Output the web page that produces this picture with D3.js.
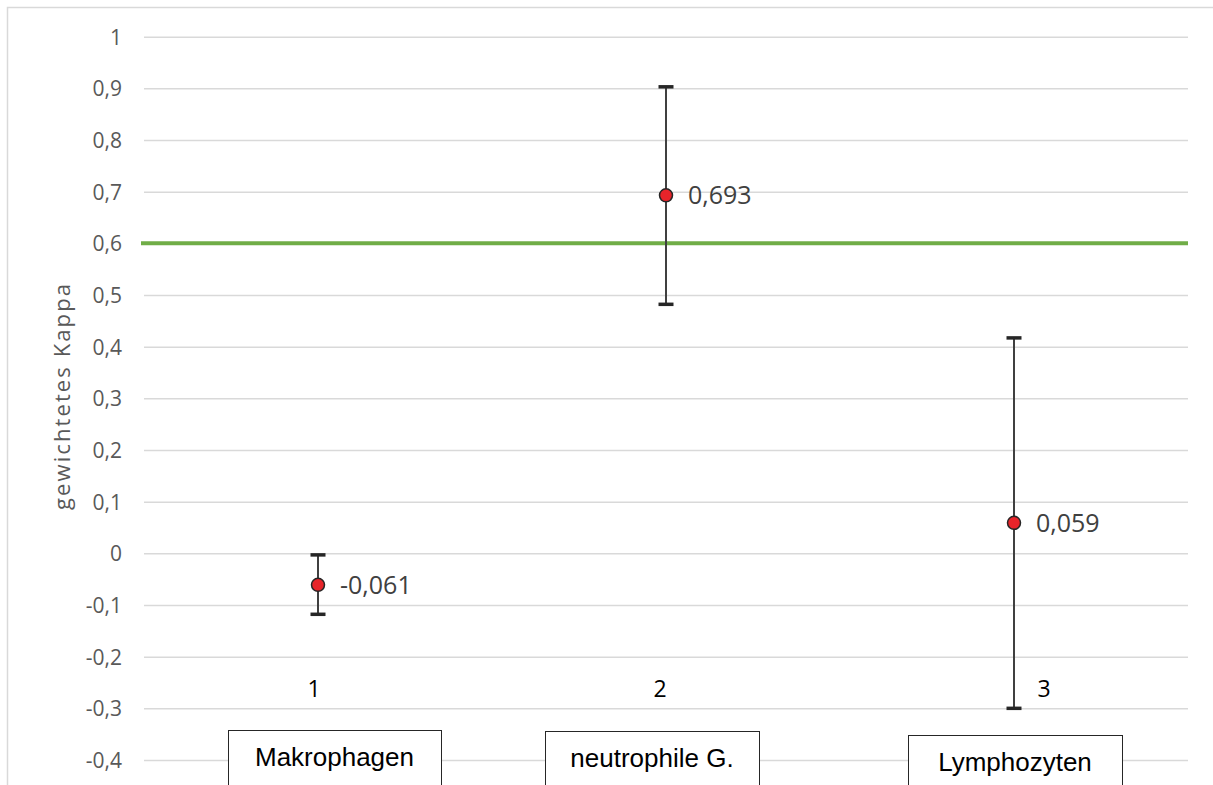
<!DOCTYPE html>
<html>
<head>
<meta charset="utf-8">
<script src="https://cdn.jsdelivr.net/npm/d3@7"></script>
<style>
  body { margin: 0; background: #fff; }
  svg { display: block; }
</style>
</head>
<body>
<svg id="chart" width="1213" height="785"></svg>
<script>
// Data
const categories = [1, 2, 3]
const boxLabels = ['Makrophagen', 'neutrophile G.', 'Lymphozyten']
const kappa = [-0.061, 0.693, 0.059]
const lower = [-0.118, 0.482, -0.300]
const upper = [-0.003, 0.903, 0.417]
const threshold = 0.6
const yTicks = [1, 0.9, 0.8, 0.7, 0.6, 0.5, 0.4, 0.3, 0.2, 0.1, 0, -0.1, -0.2, -0.3, -0.4]

const width = 1213,
    height = 785
const plot = { left: 144, right: 1188, top: 36.7, bottom: 760 }

const fmt = v => String(v).replace('.', ',')

const svg = d3.select('#chart')

// chart frame (cut off at right and bottom)
svg.append('path')
    .attr('d', `M7.5,${height} V7.5 H${width}`)
    .attr('fill', 'none')
    .attr('stroke', '#d9d9d9')
    .attr('stroke-width', 1.5)

const x = d3.scaleBand()
    .domain(categories)
    .range([plot.left, plot.right])

const y = d3.scaleLinear()
    .domain([-0.4, 1])
    .range([plot.bottom, plot.top])

// gridlines + tick labels
const yAxis = d3.axisLeft(y)
    .tickValues(yTicks)
    .tickSize(-(plot.right - plot.left))
    .tickPadding(22)
    .tickFormat(fmt)

const gy = svg.append('g')
    .attr('transform', `translate(${plot.left},0)`)
    .call(yAxis)
gy.select('.domain').remove()
gy.selectAll('.tick line')
    .attr('stroke', '#d9d9d9')
    .attr('stroke-width', 1.5)
gy.selectAll('.tick text')
    .attr('fill', '#595959')
    .attr('dy', '0.36em')
    .style('font-family', '"Open Sans", sans-serif')
    .style('font-size', '21px')

// axis title
svg.append('text')
    .attr('transform', `translate(70,397) rotate(-90)`)
    .attr('text-anchor', 'middle')
    .attr('fill', '#595959')
    .attr('textLength', 226)
    .attr('lengthAdjust', 'spacing')
    .style('font-family', '"Open Sans", sans-serif')
    .style('font-size', '22px')
    .text('gewichtetes Kappa')

// threshold line
svg.append('line')
    .attr('x1', plot.left - 3)
    .attr('x2', plot.right)
    .attr('y1', y(threshold))
    .attr('y2', y(threshold))
    .attr('stroke', '#70ad47')
    .attr('stroke-width', 4)

// category numbers
const numOffset = [-4, -6, 30]
svg.append('g')
    .selectAll('text')
    .data(categories)
    .join('text')
    .attr('x', (d, i) => x(d) + x.bandwidth() / 2 + numOffset[i])
    .attr('y', y(-0.3) - 11)
    .attr('text-anchor', 'middle')
    .attr('fill', '#000')
    .style('font-family', '"Open Sans", sans-serif')
    .style('font-size', '23px')
    .text(d => d)

// category boxes below (cut off by the frame)
const boxes = [
    { dx: -90, w: 213, top: 730 },
    { dx: -121, w: 214, top: 731 },
    { dx: -106, w: 214, top: 735 }
]
const boxG = svg.append('g')
    .selectAll('g')
    .data(boxLabels)
    .join('g')
    .attr('transform', (d, i) => `translate(${x(categories[i]) + x.bandwidth() / 2 + boxes[i].dx},${boxes[i].top})`)
boxG.append('rect')
    .attr('x', 0.5)
    .attr('y', 0.5)
    .attr('width', (d, i) => boxes[i].w)
    .attr('height', 80)
    .attr('fill', '#fff')
    .attr('stroke', '#262626')
    .attr('stroke-width', 1)
boxG.append('text')
    .attr('x', (d, i) => boxes[i].w / 2)
    .attr('y', 36)
    .attr('text-anchor', 'middle')
    .attr('fill', '#000')
    .style('font-family', '"Liberation Sans", Arial, sans-serif')
    .style('font-size', '26px')
    .text(d => d)

// error bars
const bars = svg.append('g')
    .selectAll('g')
    .data(categories)
    .join('g')
    .attr('transform', d => `translate(${x(d) + x.bandwidth() / 2},0)`)

bars.append('line')
    .attr('y1', (d, i) => y(lower[i]))
    .attr('y2', (d, i) => y(upper[i]))
    .attr('stroke', '#404040')
    .attr('stroke-width', 2)
bars.append('line')
    .attr('x1', -7.5).attr('x2', 7.5)
    .attr('y1', (d, i) => y(upper[i]))
    .attr('y2', (d, i) => y(upper[i]))
    .attr('stroke', '#262626')
    .attr('stroke-width', 3.5)
bars.append('line')
    .attr('x1', -7.5).attr('x2', 7.5)
    .attr('y1', (d, i) => y(lower[i]))
    .attr('y2', (d, i) => y(lower[i]))
    .attr('stroke', '#262626')
    .attr('stroke-width', 3.5)

// points
bars.append('circle')
    .attr('cy', (d, i) => y(kappa[i]))
    .attr('r', 6.5)
    .attr('fill', '#e8242a')
    .attr('stroke', '#262626')
    .attr('stroke-width', 1.5)

// value labels
bars.append('text')
    .attr('x', 22)
    .attr('y', (d, i) => y(kappa[i]) + 9)
    .attr('fill', '#404040')
    .style('font-family', '"Open Sans", sans-serif')
    .style('font-size', '25px')
    .text((d, i) => fmt(kappa[i]))
</script>
</body>
</html>
